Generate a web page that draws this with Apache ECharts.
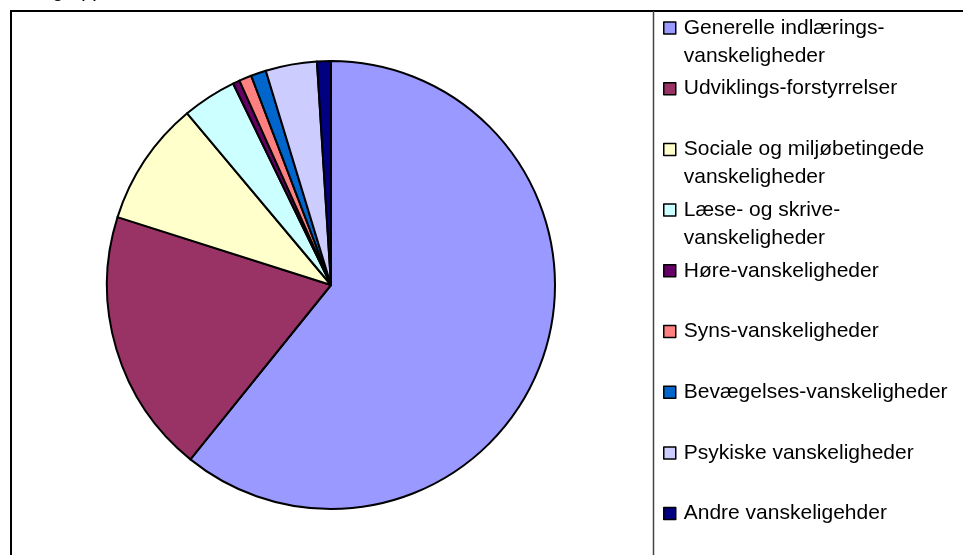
<!DOCTYPE html>
<html>
<head>
<meta charset="utf-8">
<script src="https://cdn.jsdelivr.net/npm/echarts@6/dist/echarts.min.js"></script>
<style>
html, body { margin: 0; padding: 0; background: #fff; }
#main { width: 963px; height: 555px; }
</style>
</head>
<body>
<div id="main"></div>
<script>
// kategorier (vist med linjeskift som i forlaegget)
var categories = [
    'Generelle indlærings-\nvanskeligheder',
    'Udviklings-forstyrrelser',
    'Sociale og miljøbetingede\nvanskeligheder',
    'Læse- og skrive-\nvanskeligheder',
    'Høre-vanskeligheder',
    'Syns-vanskeligheder',
    'Bevægelses-vanskeligheder',
    'Psykiske vanskeligheder',
    'Andre vanskeligehder'
];
// andel i procent, aflaest fra lagkagen
var shares = [60.8, 19.1, 9.0, 3.9, 0.5, 0.9, 1.1, 3.7, 1.0];
var colors = ['#9999FF', '#993366', '#FFFFCC', '#CCFFFF', '#660066', '#FF8080', '#0066CC', '#CCCCFF', '#000080'];

var chart = echarts.init(document.getElementById('main'));

var pieData = [];
for (var i = 0; i < categories.length; i++) {
    pieData.push({ name: categories[i], value: shares[i], itemStyle: { color: colors[i] } });
}

// en legende pr. punkt, saa ikonet flugter med foerste tekstlinje
var lineH = 28;
var legends = [];
for (var j = 0; j < categories.length; j++) {
    var twoLines = categories[j].indexOf('\n') >= 0;
    var nLines = twoLines ? 3 : 1;
    var iconCenter = 28 + j * 60.7;
    legends.push({
        data: [categories[j]],
        orient: 'vertical',
        left: 663,
        top: iconCenter - nLines * lineH / 2,
        padding: 0,
        itemWidth: 12,
        itemHeight: 12,
        itemGap: 0,
        icon: 'rect',
        selectedMode: false,
        itemStyle: { borderColor: '#000', borderWidth: 1.5 },
        formatter: function(name) {
            return name.indexOf('\n') >= 0 ? ' \n' + name : name;
        },
        textStyle: {
            fontFamily: 'Liberation Sans, Arial, sans-serif',
            fontSize: 21,
            lineHeight: lineH,
            color: '#000',
            padding: [0, 0, 0, 3]
        }
    });
}

var option = {
    backgroundColor: '#fff',
    animation: false,
    title: {
        text: 'Målgruppe',
        left: 20,
        top: -19,
        padding: 0,
        textStyle: { fontFamily: 'Liberation Sans, Arial, sans-serif', fontSize: 20, fontWeight: 'normal', color: '#000' }
    },
    legend: legends,
    graphic: [
        { type: 'line', shape: { x1: 11, y1: 11, x2: 963, y2: 11 }, style: { stroke: '#000', lineWidth: 2 } },
        { type: 'line', shape: { x1: 11, y1: 10, x2: 11, y2: 555 }, style: { stroke: '#000', lineWidth: 2 } },
        { type: 'line', shape: { x1: 653.5, y1: 11, x2: 653.5, y2: 555 }, style: { stroke: '#444', lineWidth: 1.5 } }
    ],
    series: [{
        type: 'pie',
        center: [331, 285],
        radius: 224,
        startAngle: 90,
        clockwise: true,
        avoidLabelOverlap: false,
        label: { show: false },
        labelLine: { show: false },
        emphasis: { disabled: true },
        itemStyle: { borderColor: '#000', borderWidth: 2 },
        data: pieData
    }]
};
chart.setOption(option);
</script>
</body>
</html>
